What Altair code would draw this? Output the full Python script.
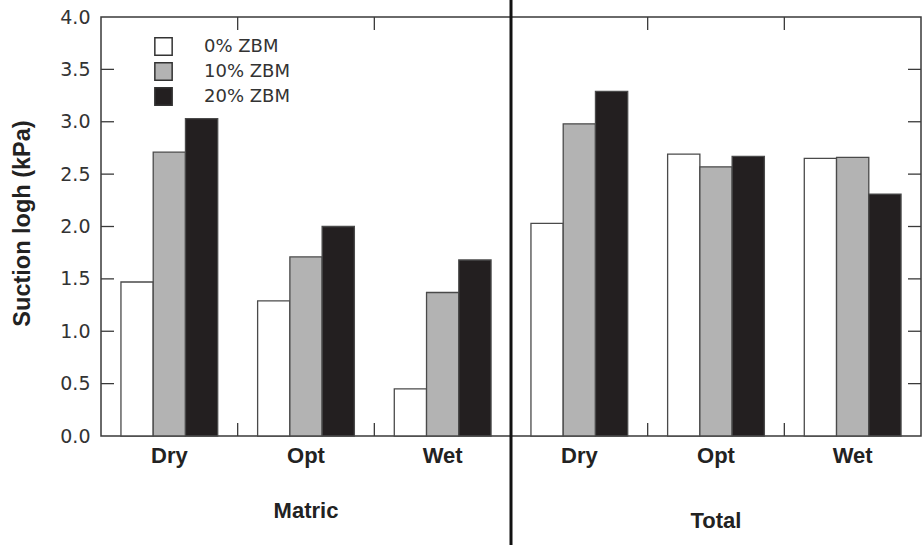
import altair as alt
import pandas as pd

# ---- data ----
sections = ["Matric", "Total"]
moisture = ["Dry", "Opt", "Wet"]
series = ["0% ZBM", "10% ZBM", "20% ZBM"]
matric_0 = [1.47, 1.29, 0.45]
matric_10 = [2.71, 1.71, 1.37]
matric_20 = [3.03, 2.00, 1.68]
total_0 = [2.03, 2.69, 2.65]
total_10 = [2.98, 2.57, 2.66]
total_20 = [3.29, 2.67, 2.31]
y_labels = [0.0, 0.5, 1.0, 1.5, 2.0, 2.5, 3.0, 3.5, 4.0]
y_ticks = [0.5, 1.0, 1.5, 2.0, 2.5, 3.0, 3.5]
colors = ["#ffffff", "#b3b3b3", "#231f20"]

values = {
    "Matric": [matric_0, matric_10, matric_20],
    "Total": [total_0, total_10, total_20],
}

rows = []
for si, sec in enumerate(sections):
    for mi, m in enumerate(moisture):
        for ki, s in enumerate(series):
            rows.append({"section": sec, "moisture": m, "series": s,
                         "gi": si * len(moisture) + mi, "ki": ki,
                         "value": values[sec][ki][mi]})
bars_df = pd.DataFrame(rows)

groups_df = pd.DataFrame([{"gi": si * len(moisture) + mi, "label": m}
                          for si in range(len(sections)) for mi, m in enumerate(moisture)])
sections_df = pd.DataFrame([{"si": si, "label": s} for si, s in enumerate(sections)])
xtick_df = pd.DataFrame({"v": [g for g in range(1, len(sections) * len(moisture))
                               if g % len(moisture) != 0]})
ytick_df = pd.DataFrame({"v": y_ticks})
divider_df = pd.DataFrame({"v": [len(moisture)]})

NG = len(sections) * len(moisture)
BW = 0.236  # bar width as fraction of a group slot
xscale = alt.Scale(domain=[0, NG], nice=False, zero=False)
yscale = alt.Scale(domain=[0, 4], nice=False)
FRAME = "#3a3a3a"

bars = alt.Chart(bars_df).mark_bar(stroke="#4a4a4a", strokeWidth=1.3).transform_calculate(
    xc=f"datum.gi + 0.5 + (datum.ki - 1) * {BW}"
).transform_calculate(
    x0=f"datum.xc - {BW / 2}", x1=f"datum.xc + {BW / 2}"
).encode(
    x=alt.X("x0:Q", scale=xscale, axis=None),
    x2="x1:Q",
    y=alt.Y("value:Q", scale=yscale,
            axis=alt.Axis(values=y_labels, format=".1f", tickSize=0, domain=False, grid=False,
                          labelPadding=11, labelFont="DejaVu Sans", labelFontSize=19,
                          labelColor="#333333",
                          title="Suction logh (kPa)", titleFont="Liberation Sans",
                          titleFontSize=23.5, titleFontWeight="bold", titleColor="#222222",
                          titleX=-79, titleY=206, titleAlign="center",
                          titleBaseline="middle", titleAngle=270)),
    y2=alt.datum(0),
    fill=alt.Fill("series:N", scale=alt.Scale(domain=series, range=colors),
                  legend=alt.Legend(orient="none", legendX=53, legendY=20, title=None,
                                    symbolType="square", symbolSize=300,
                                    symbolStrokeColor="#333333", symbolStrokeWidth=1.5,
                                    labelFont="DejaVu Sans", labelFontSize=18,
                                    labelColor="#333333", labelOffset=31,
                                    rowPadding=0, padding=0)),
)

left_ticks = alt.Chart(ytick_df).mark_rule(color=FRAME, strokeWidth=1.3).encode(
    y=alt.Y("v:Q", scale=yscale), x=alt.value(0), x2=alt.value(13))
right_ticks = alt.Chart(ytick_df).mark_rule(color=FRAME, strokeWidth=1.3).encode(
    y=alt.Y("v:Q", scale=yscale), x=alt.value(807), x2=alt.value(820))
top_ticks = alt.Chart(xtick_df).mark_rule(color=FRAME, strokeWidth=1.3).encode(
    x=alt.X("v:Q", scale=xscale, axis=None), y=alt.value(0), y2=alt.value(13))
bottom_ticks = alt.Chart(xtick_df).mark_rule(color=FRAME, strokeWidth=1.3).encode(
    x=alt.X("v:Q", scale=xscale, axis=None), y=alt.value(406), y2=alt.value(419))

divider = alt.Chart(divider_df).mark_rule(color="#111111", strokeWidth=3, clip=False).encode(
    x=alt.X("v:Q", scale=xscale, axis=None), y=alt.value(-17), y2=alt.value(528))

group_labels = alt.Chart(groups_df).mark_text(
    font="Liberation Sans", fontSize=22, fontWeight="bold", color="#222222",
    baseline="alphabetic", align="center"
).transform_calculate(xc="datum.gi + 0.5").encode(
    x=alt.X("xc:Q", scale=xscale, axis=None), y=alt.value(446), text="label:N")

section_labels = alt.Chart(sections_df).mark_text(
    font="Liberation Sans", fontSize=22, fontWeight="bold", color="#222222",
    baseline="alphabetic", align="center"
).transform_calculate(
    xc=f"datum.si * {len(moisture)} + {len(moisture) / 2}",
    yy="datum.si == 0 ? 501 : 511"
).encode(
    x=alt.X("xc:Q", scale=xscale, axis=None), y=alt.Y("yy:Q", scale=None), text="label:N")

chart = alt.layer(
    bars, left_ticks, right_ticks, top_ticks, bottom_ticks, divider, group_labels, section_labels
).properties(
    width=820, height=419,
    autosize=alt.AutoSizeParams(type="none"),
    padding={"left": 101, "top": 17, "right": 3, "bottom": 114},
    background="white",
).configure_view(stroke=FRAME, strokeWidth=1.5)

chart.save("out.html", embed_options={"renderer": "svg", "actions": False})
